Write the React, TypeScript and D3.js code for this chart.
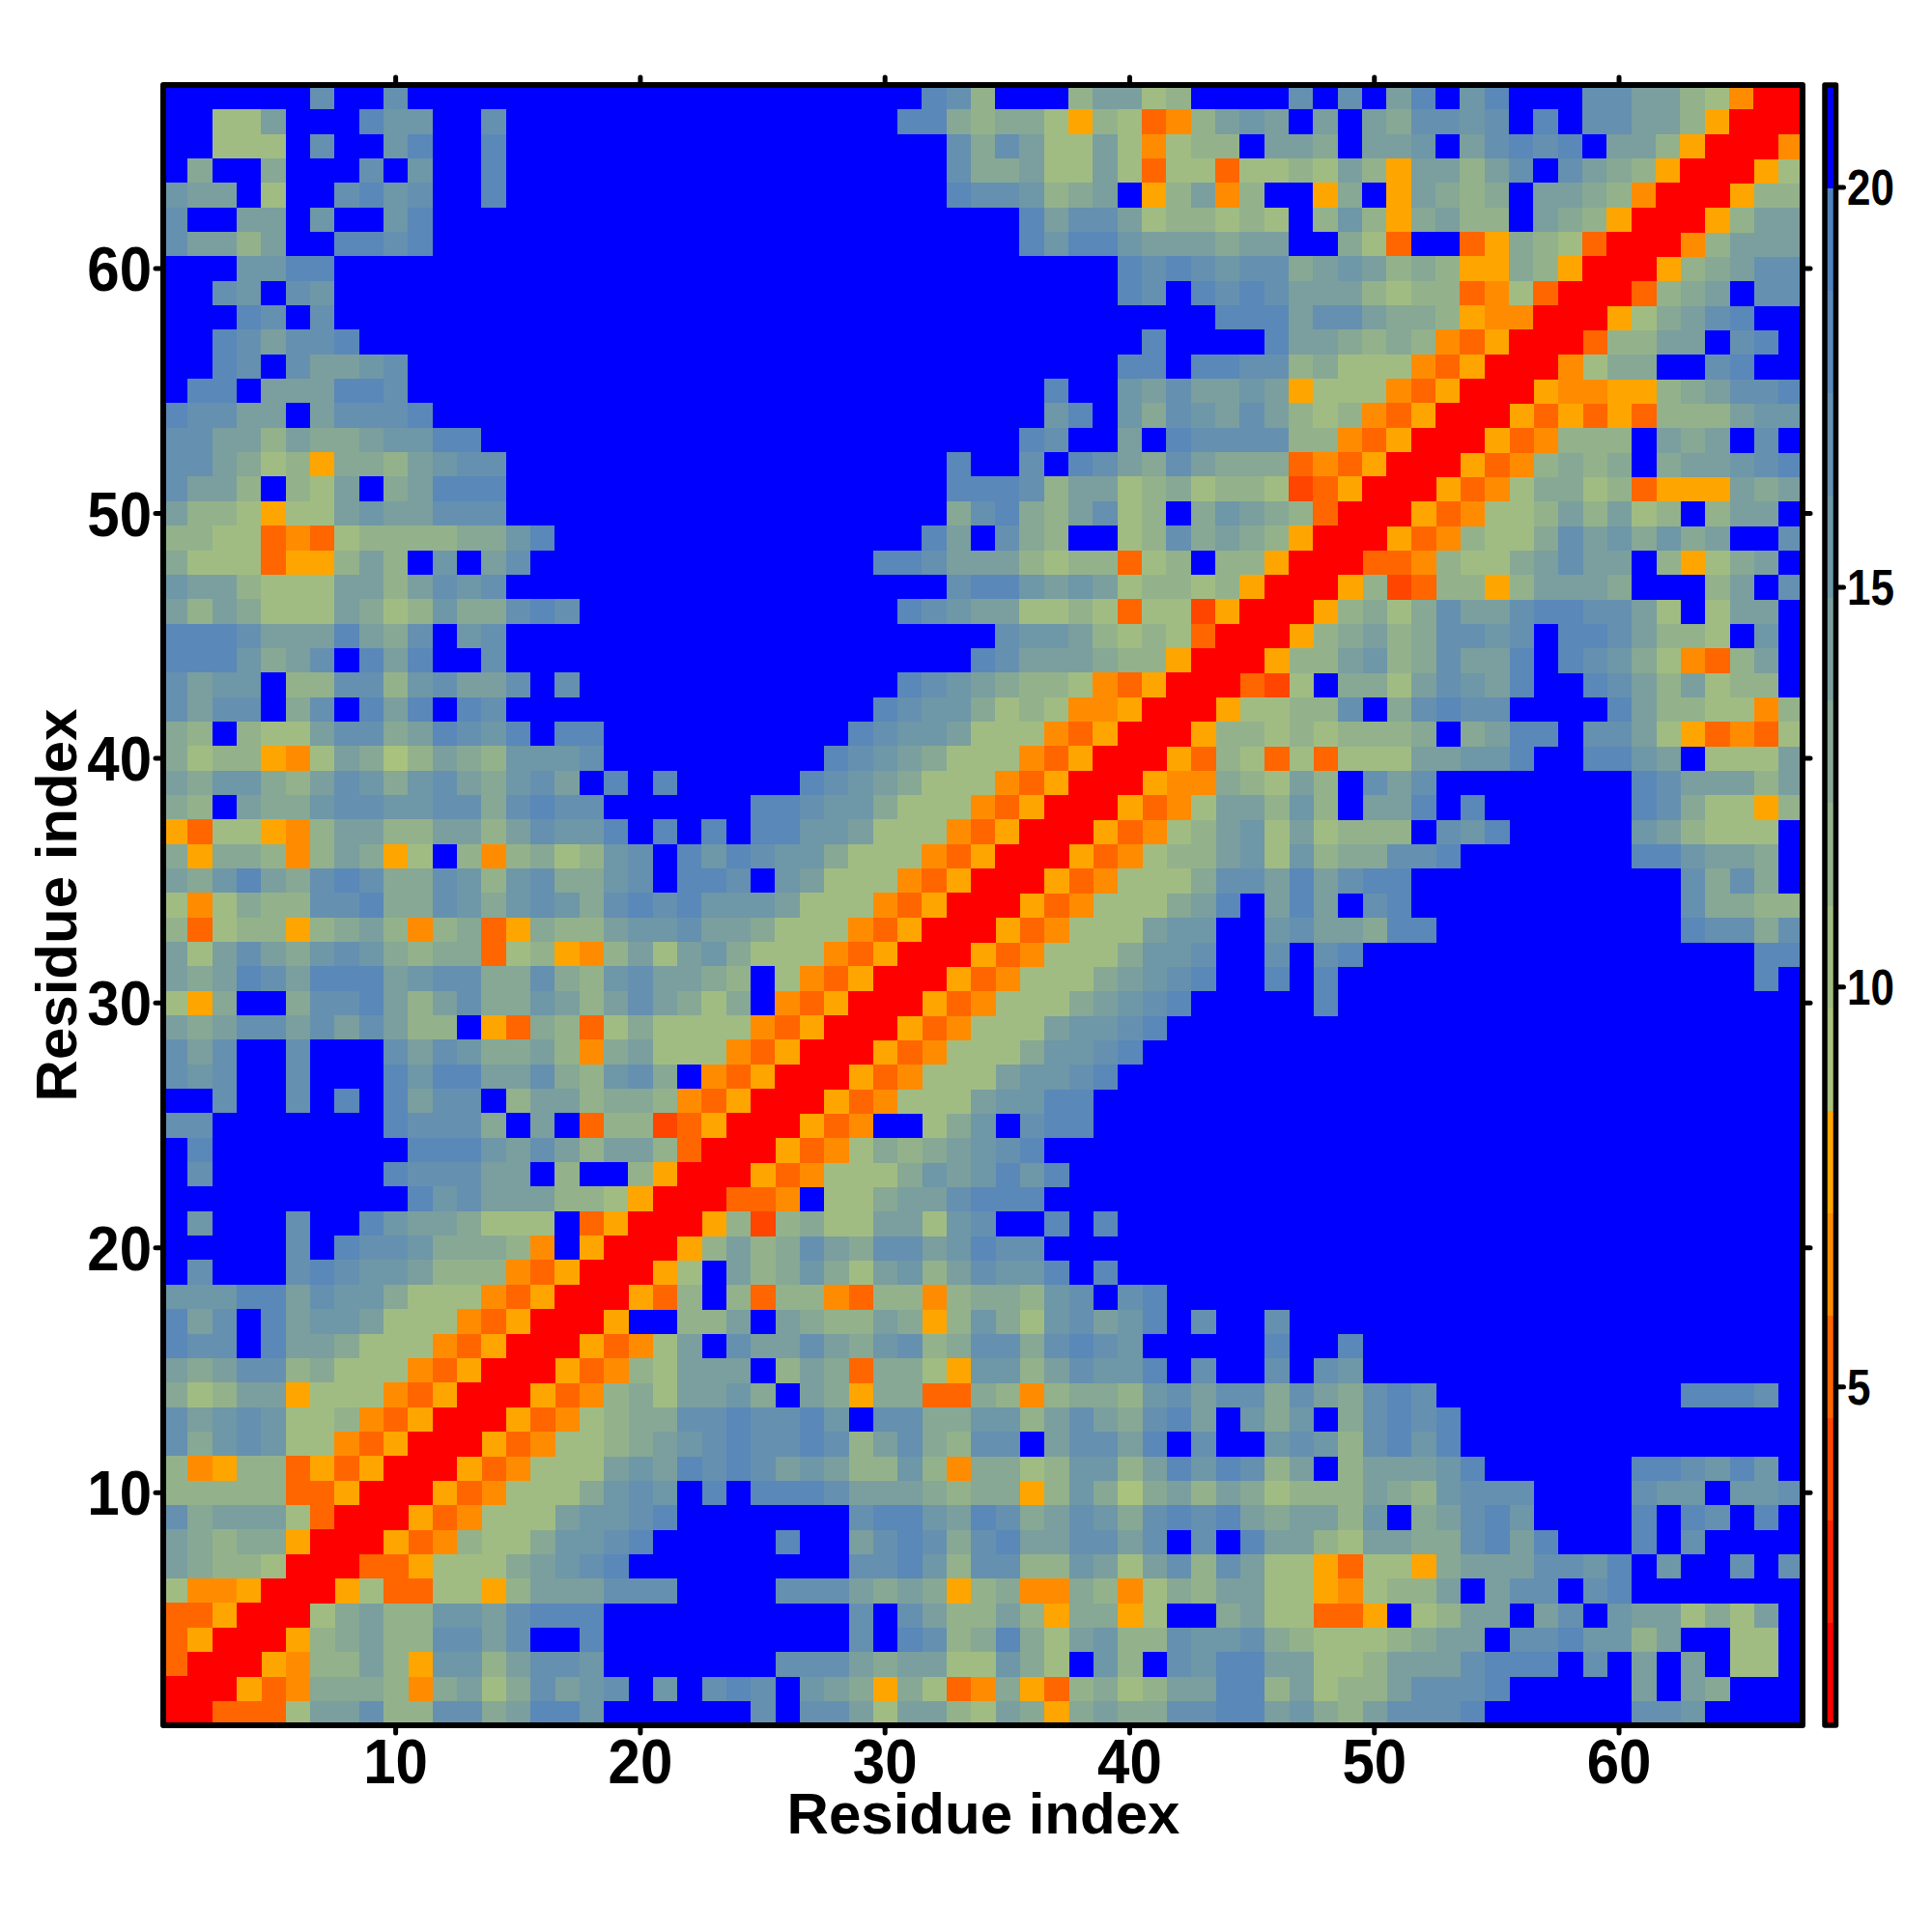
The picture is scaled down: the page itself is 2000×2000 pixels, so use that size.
import React from "react";
import * as d3 from "d3";

// Distance-band level per residue pair.
// Rows run from residue 67 down to residue 1; each row holds x = 1..y (matrix is symmetric).
const levelRows: string[] = [
  "ffffffcffc ffffffffff ffffffffff fdc8fff8aa 78ffffcfcf adfbdfffcc aa87400",
  "ff77afffdb bffcffffff ffffffffff dd98997587 348abafafa 9ccbcfdfcc aa8500",
  "ff777fcffb dffdffffff ffffffffff ffc9ca77a7 4788faa9fa abfacdcdfa a8500",
  "f9ff9fffcf bffdffffff ffffffffff ffc99a77a7 37737787a8 5aa8acfca9 8500",
  "baaf7ffcdb cffdffffff ffffffffff ffdccb89af 58a48ff59f 5a989faa98 400",
  "cffaafbffb dfffffffff ffffffffff fffffdacca 788787f8b8 59a88fa985 00",
  "caa8affddc dfffffffff ffffffffff fffffdbddb aaa9aaff97 3ff3598730 0",
  "fffbbddfff ffffffffff ffffffffff fffffffffd cdcbcc9aba 8985598500",
  "ffcbfcbfff ffffffffff ffffffffff fffffffffd cfdcdcaaa8 788347300",
  "fffdcfcfff ffffffffff ffffffffff ffffffffff fffdddacca 99854400",
  "ffdcaccdff ffffffffff ffffffffff ffffffffff dffffdaa98 9843500",
  "ffdcfcaabc ffffffffff ffffffffff fffffffffd dfddcc8977 743500",
  "fddfaaaddc ffffffffff ffffffffff ffffffdffb acaaba5777 43500",
  "dccaafaccc dfffffffff ffffffffff ffffffbdfb 9cbaca8784 3500",
  "ccaa8a99ab bddfffffff ffffffffff fffffdcffa fdcccc8843 500",
  "cca9785998 abccffffff ffffffffff ffdffcfdca 9ca9993435 00",
  "caa8f87af9 adddffffff ffffffffff ffdddc8aa7 8978872350 0",
  "a887577aba acccffffff ffffffffff ff9cd98ac7 8f9ba98300",
  "8877343788 8899bdffff ffffffffff fdafc98ff7 8c9a98500",
  "97773558a8 fbfacfffff fffffffffd dcaaa87883 78f88500",
  "baa8777aa8 acbcffffff ffffffffff ffcddbaba7 8878500",
  "a8a9777a97 8b99cdcfff ffffffffff dcbaa77873 772500",
  "dddcaaada9 cfbcffffff ffffffffff ffffcbba87 87300",
  "dddb9acfda dffcffffff ffffffffff fffdcaaa98 8500",
  "cabbf88cc8 bcaacfcfff ffffffffff dcba988743 500",
  "caccf9cfda dfdcffffff fffffffffd cbb9787445 00",
  "98f877acc9 adcbdfddff ffffffffdc bba7774350 0",
  "9788547a96 8a98bbbcff fffffffdcb a977743500",
  "a9bb98acb9 bca9bcafdf dfffffdcba 977743500",
  "98fa99bccb bcc9cdccff ffffddcbb9 77743500",
  "5377548aa8 8aa8acbbdf dfdfddbba7 7743500",
  "9599848a95 7f848978bc fdbdcbb977 743500",
  "a9bda9cdc9 9cb8bc99bc fddcfba777 43500",
  "747988ccd9 9cb9bcb9cd cdbbba7774 3500",
  "83788589a8 48935988ab bcaa977743 500",
  "a7aca9bcb9 899378548a 7ab9777435 00",
  "a9adcaddda bcc99c98bc aa98f74350 0",
  "759ff9ccda 8ac99ba8ac a979f43500",
  "a9accacaca 88f5398379 777743500",
  "cacffcfffc acb99a849a 77743500",
  "cbcffcfffd bddaac98bc 9f43500",
  "ffcffcfdfd accf8aa899 843500",
  "ccfffffffd ccc9faf388 23500",
  "fdffffffff dddbaca8aa 8300",
  "fcfffffffd cccaaf8ff8 500",
  "ffffffffff dbcaaa8875 00",
  "fbfffcffdb aa9777f350 0",
  "fffffcfdcc b99984f500",
  "fcfffcdcbb a88843500",
  "bbbddacbb9 77743500",
  "dacfdabba7 7743500",
  "dccfdaa977 743500",
  "a9acc89777 43500",
  "978aa57774 3500",
  "cabcb77843 500",
  "c9bcb77435 00",
  "8458835350 0",
  "8888833500",
  "c9aaa7300",
  "a9899500",
  "a988700",
  "744500",
  "33500",
  "3500",
  "300",
  "00",
  "0",
];

const palette: string[] = [
  "#ff0000", "#ff2200", "#ff4500", "#ff6600", "#ff8c00", "#ffa500",
  "#a9c27e", "#a1bc83", "#93b28b", "#86a895", "#7a9f9e", "#6e97a7",
  "#6590b0", "#5a88b8", "#5082bd", "#0000ff",
];

const axisTicks: number[] = [10, 20, 30, 40, 50, 60];
const colorTicks: number[] = [5, 10, 15, 20];
const axisTitle = "Residue index";

const plot = { left: 169, right: 1866, top: 88, bottom: 1786 };
const bar = { left: 1889, right: 1900.5 };
const font = "'Liberation Sans', Arial, sans-serif";

const residues = d3.range(1, 68);
const x = d3.scaleBand<number>().domain(residues).range([plot.left, plot.right]);
const y = d3.scaleBand<number>().domain(residues).range([plot.bottom, plot.top]);
const xMid = (v: number) => (x(v) as number) + x.bandwidth() / 2;
const yMid = (v: number) => (y(v) as number) + y.bandwidth() / 2;

const levelIds = d3.range(16);
const color = d3.scaleOrdinal<number, string>().domain(levelIds).range(palette);
const barBand = d3.scaleBand<number>().domain(levelIds).range([plot.bottom, plot.top]);
const barScale = d3.scaleLinear().domain([0.77, 21.28]).range([plot.bottom, plot.top]);

const cells: { i: number; j: number; level: number }[] = [];
levelRows.forEach((row, r) => {
  const yIndex = 67 - r;
  row.replace(/\s/g, "").split("").forEach((ch, c) => {
    const xIndex = c + 1;
    const level = parseInt(ch, 16);
    cells.push({ i: xIndex, j: yIndex, level });
    if (xIndex !== yIndex) cells.push({ i: yIndex, j: xIndex, level });
  });
});

export default function App() {
  return (
    <svg
      width={2000}
      height={2000}
      viewBox="0 0 2000 2000"
      style={{ position: "absolute", left: 0, top: 0, background: "#fff" }}
      fontFamily={font}
      fontWeight="bold"
    >
      <g shapeRendering="crispEdges">
        {cells.map((d) => (
          <rect
            key={`${d.i}-${d.j}`}
            x={x(d.i)}
            y={y(d.j)}
            width={x.bandwidth() + 0.5}
            height={y.bandwidth() + 0.5}
            fill={color(d.level)}
          />
        ))}
      </g>

      {axisTicks.map((t) => (
        <g key={t} stroke="#000" strokeWidth={5} strokeLinecap="round">
          <line x1={xMid(t)} x2={xMid(t)} y1={plot.bottom} y2={plot.bottom + 8} />
          <line x1={xMid(t)} x2={xMid(t)} y1={plot.top} y2={plot.top - 8} />
          <line y1={yMid(t)} y2={yMid(t)} x1={plot.left} x2={plot.left - 8} />
          <line y1={yMid(t)} y2={yMid(t)} x1={plot.right} x2={plot.right + 8} />
        </g>
      ))}
      <rect
        x={plot.left}
        y={plot.top}
        width={plot.right - plot.left}
        height={plot.bottom - plot.top}
        fill="none"
        stroke="#000"
        strokeWidth={6}
        strokeLinejoin="round"
      />

      {axisTicks.map((t) => (
        <text
          key={`x${t}`}
          transform={`translate(${xMid(t)},1846) scale(1,1.07)`}
          fontSize={60}
          textAnchor="middle"
          fill="#000"
        >
          {t}
        </text>
      ))}
      {axisTicks.map((t) => (
        <text
          key={`y${t}`}
          transform={`translate(157,${yMid(t) + 23}) scale(1,1.07)`}
          fontSize={60}
          textAnchor="end"
          fill="#000"
        >
          {t}
        </text>
      ))}
      <text x={1018} y={1898} fontSize={60} textAnchor="middle" fill="#000">
        {axisTitle}
      </text>
      <text
        transform={`translate(79,${(plot.top + plot.bottom) / 2}) rotate(-90)`}
        fontSize={60}
        textAnchor="middle"
        fill="#000"
      >
        {axisTitle}
      </text>

      <g shapeRendering="crispEdges">
        {levelIds.map((l) => (
          <rect
            key={l}
            x={bar.left}
            y={barBand(l)}
            width={bar.right - bar.left}
            height={barBand.bandwidth() + 0.5}
            fill={color(l)}
          />
        ))}
      </g>
      <rect
        x={bar.left}
        y={plot.top}
        width={bar.right - bar.left}
        height={plot.bottom - plot.top}
        fill="none"
        stroke="#000"
        strokeWidth={5.5}
        strokeLinejoin="round"
      />
      {colorTicks.map((t) => (
        <g key={t}>
          <line
            x1={bar.right}
            x2={bar.right + 8}
            y1={barScale(t)}
            y2={barScale(t)}
            stroke="#000"
            strokeWidth={5}
            strokeLinecap="round"
          />
          <text
            transform={`translate(1912,${barScale(t) + 18}) scale(1,1.17)`}
            fontSize={44}
            fill="#000"
          >
            {t}
          </text>
        </g>
      ))}
    </svg>
  );
}
